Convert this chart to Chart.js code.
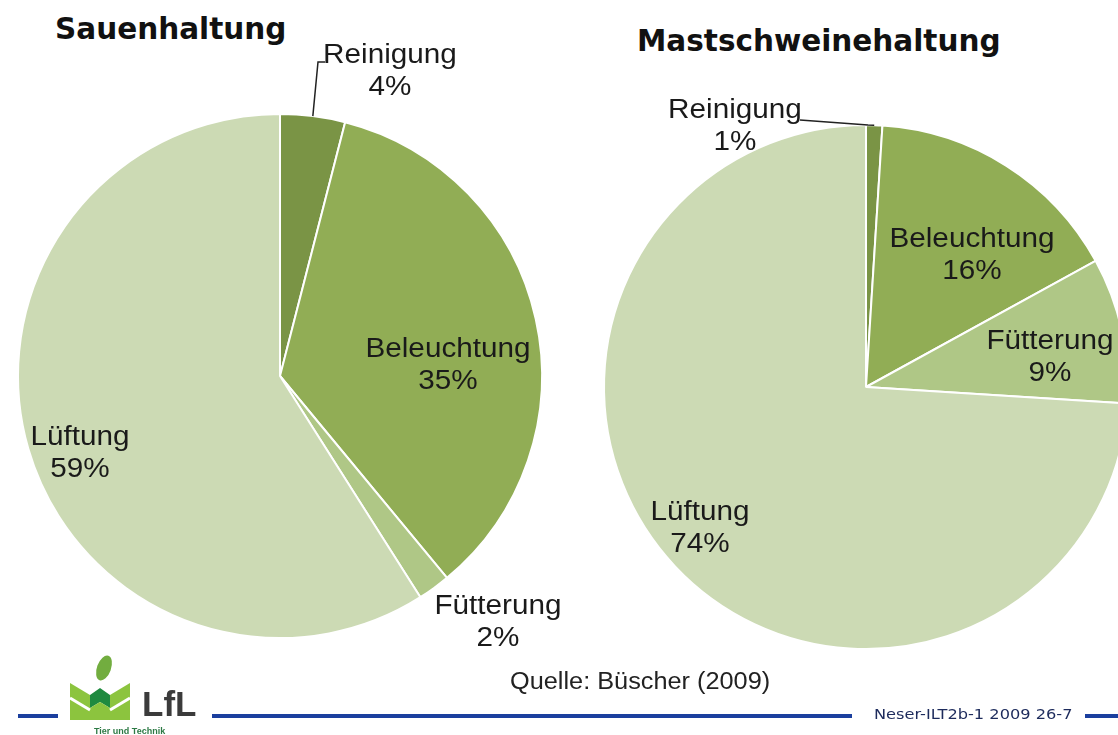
<!DOCTYPE html>
<html>
<head>
<meta charset="utf-8">
<script src="https://cdn.jsdelivr.net/npm/chart.js@4/dist/chart.umd.min.js"></script>
<style>
  html, body { margin: 0; padding: 0; background: #fff; }
  body { width: 1118px; height: 735px; position: relative; overflow: hidden; }
  canvas { position: absolute; left: 0; top: 0; }
  .title { position: absolute; font-family: "DejaVu Sans", Verdana, sans-serif; font-weight: bold; font-size: 29.5px; color: #111; white-space: nowrap; }
  .quelle { position: absolute; left: 510px; top: 668px; font-family: "Liberation Sans", Arial, sans-serif; font-size: 23px; color: #222; transform: scaleX(1.1); transform-origin: left top; white-space: nowrap; }
  .blue { position: absolute; top: 714px; height: 4px; background: #1b3f9e; }
  .ref { position: absolute; left: 874px; top: 706px; font-family: "DejaVu Sans", Tahoma, sans-serif; font-size: 13.5px; color: #1d2b5c; white-space: nowrap; transform: scaleX(1.2); transform-origin: left top; }
  .lfl { position: absolute; left: 142px; top: 684px; font-family: "Liberation Sans", Arial, sans-serif; font-weight: bold; font-size: 35px; color: #3b3b3b; }
  .tut { position: absolute; left: 94px; top: 726px; font-family: "Liberation Sans", Arial, sans-serif; font-weight: bold; font-size: 9px; color: #2d7a45; }
</style>
</head>
<body>
<div class="title" style="left:55px; top:12px;">Sauenhaltung</div>
<div class="title" style="left:637px; top:24px;">Mastschweinehaltung</div>

<canvas id="sauen" width="1118" height="735"></canvas>
<canvas id="mast" width="1200" height="735"></canvas>

<div class="quelle">Quelle: Büscher (2009)</div>

<div class="blue" style="left:18px; width:40px;"></div>
<div class="blue" style="left:212px; width:640px;"></div>
<div class="blue" style="left:1085px; width:40px;"></div>
<div class="ref">Neser-ILT2b-1 2009 26-7</div>

<svg style="position:absolute; left:64px; top:652px;" width="72" height="72" viewBox="0 0 72 72">
  <ellipse cx="40" cy="16" rx="7" ry="13" transform="rotate(20 40 16)" fill="#72ad3f"/>
  <polygon points="6,31 26,43 26,68 6,68" fill="#8cc43e"/>
  <polygon points="46,43 66,31 66,68 46,68" fill="#8cc43e"/>
  <polygon points="26,43 36,36 46,43 46,56 36,50 26,56" fill="#1f8a3f"/>
  <polygon points="26,56 36,50 46,56 46,68 26,68" fill="#8cc43e"/>
  <line x1="6" y1="46" x2="26" y2="58" stroke="#fff" stroke-width="3"/>
  <line x1="46" y1="58" x2="66" y2="46" stroke="#fff" stroke-width="3"/>
</svg>
<div class="lfl">LfL</div>
<div class="tut">Tier und Technik</div>

<script>
const categories = ['Reinigung', 'Beleuchtung', 'Fütterung', 'Lüftung'];
const sauenValues = [4, 35, 2, 59];
const mastValues = [1, 16, 9, 74];
const sliceColors = ['#7a9445', '#91ad55', '#afc786', '#ccdab4'];

// label block centres, relative to the pie centre
const sauenLabelOffsets = [[110, -304], [168, -10], [218, 247], [-200, 78]];
const mastLabelOffsets = [[-131, -260], [106, -131], [184, -29], [-166, 142]];

const sliceLabels = {
  id: 'sliceLabels',
  afterDatasetsDraw(chart, args, opts) {
    const ctx = chart.ctx;
    const arcs = chart.getDatasetMeta(0).data;
    const values = chart.data.datasets[0].data;
    const lineH = 32;

    // leader line for the small outside slice
    if (opts.leader) {
      const arc = arcs[opts.leader.index];
      const mid = (arc.startAngle + arc.endAngle) / 2;
      ctx.save();
      ctx.strokeStyle = '#222';
      ctx.lineWidth = 1.5;
      ctx.beginPath();
      ctx.moveTo(arc.x + Math.cos(mid) * arc.outerRadius, arc.y + Math.sin(mid) * arc.outerRadius);
      opts.leader.path.forEach(p => ctx.lineTo(arc.x + p[0], arc.y + p[1]));
      ctx.stroke();
      ctx.restore();
    }

    ctx.save();
    ctx.fillStyle = '#1a1a1a';
    ctx.font = '27px "Liberation Sans", Arial, sans-serif';
    ctx.textAlign = 'center';
    ctx.textBaseline = 'middle';
    arcs.forEach((arc, i) => {
      const off = opts.offsets[i];
      const lines = [chart.data.labels[i], values[i] + '%'];
      lines.forEach((t, k) => {
        ctx.save();
        ctx.translate(arc.x + off[0], arc.y + off[1] + (k - 0.5) * lineH);
        ctx.scale(1.1, 1);
        ctx.fillText(t, 0, 0);
        ctx.restore();
      });
    });
    ctx.restore();
  }
};

function makePie(id, values, offsets, leader, padding) {
  return new Chart(document.getElementById(id).getContext('2d'), {
    type: 'pie',
    data: {
      labels: categories,
      datasets: [{
        data: values,
        backgroundColor: sliceColors,
        borderColor: '#ffffff',
        borderWidth: 2,
        radius: 262
      }]
    },
    options: {
      responsive: false,
      animation: false,
      events: [],
      layout: { padding: padding },
      plugins: {
        legend: { display: false },
        tooltip: { enabled: false },
        sliceLabels: { offsets: offsets, leader: leader }
      }
    },
    plugins: [sliceLabels]
  });
}

makePie('sauen', sauenValues, sauenLabelOffsets,
  { index: 0, path: [[38, -314], [45, -314]] },
  { left: 16, right: 574, top: 112, bottom: 95 });
makePie('mast', mastValues, mastLabelOffsets,
  { index: 0, path: [[2, -262], [-66, -267]] },
  { left: 604, right: 72, top: 125, bottom: 86 });
</script>
</body>
</html>
